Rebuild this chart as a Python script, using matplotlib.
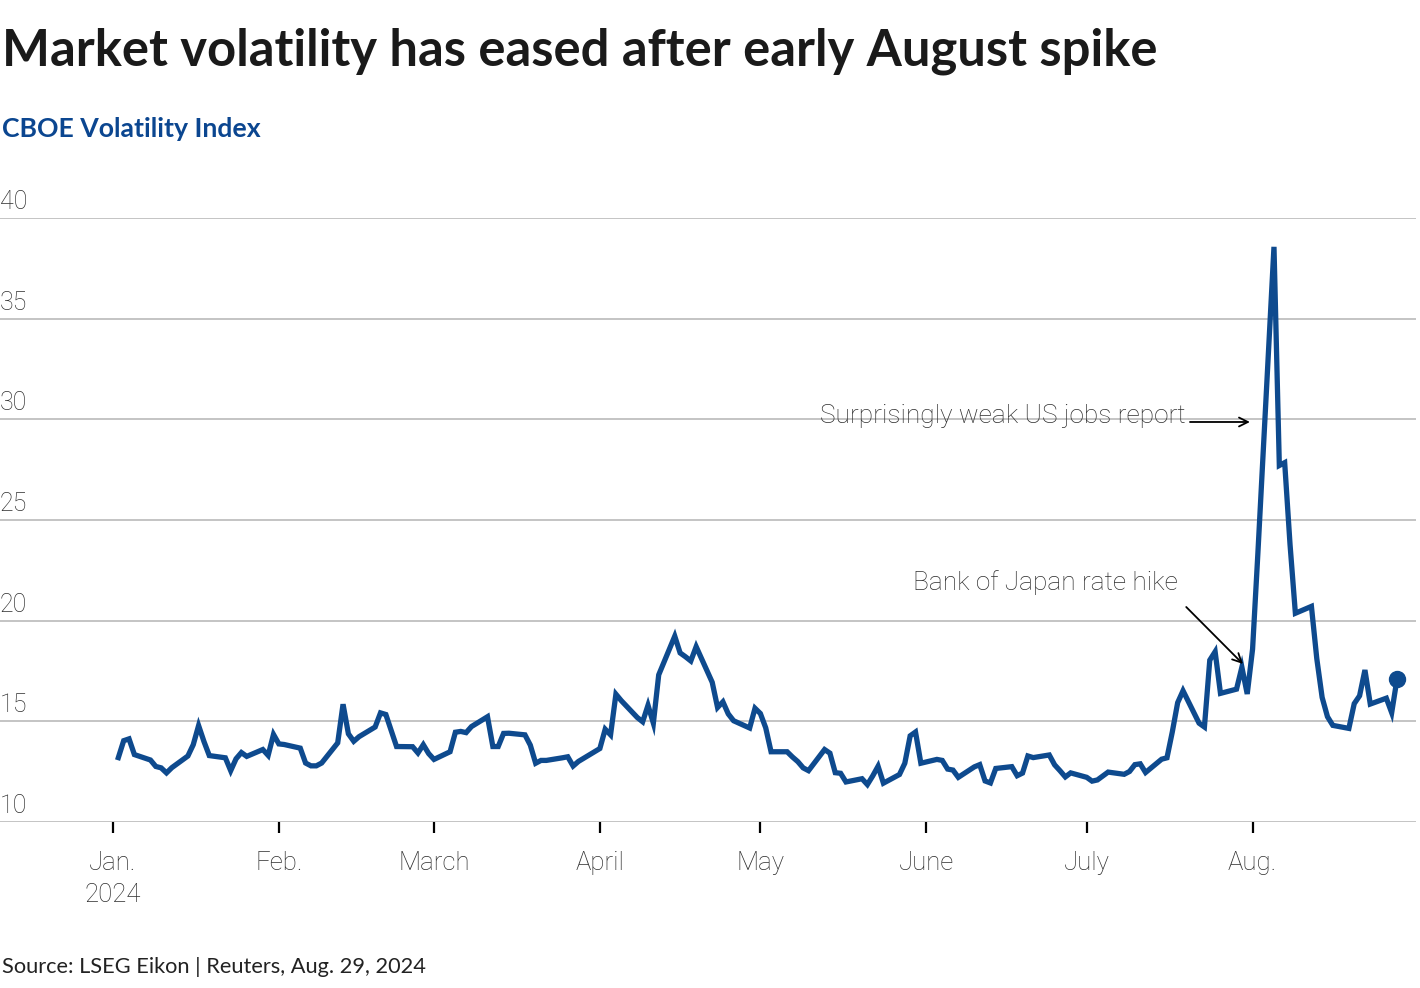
import numpy as np
import pandas as pd
import matplotlib
matplotlib.use("Agg")
import matplotlib.pyplot as plt
import matplotlib.dates as mdates

plt.rcParams['font.family'] = ['Lato', 'DejaVu Sans']

#Colours
blue = "#0e4a8e"
grid = "#b4b4b4"
text = "#2e2e2e"
light = ['Roboto', 'Lato', 'DejaVu Sans']

'''---Data---'''

#Trading days, Jan 2 to Aug 28 2024 (Good Friday and July 4 not in the series)
dates = pd.bdate_range("2024-01-02", "2024-08-28")
dates = dates.drop(pd.to_datetime(["2024-03-29", "2024-07-04"]))

vix_jan = [13.20, 14.04, 14.13, 13.35, 13.08, 12.76, 12.69, 12.44, 12.70, 13.28,
           13.84, 14.79, 14.00, 13.30, 13.19, 12.55, 13.14, 13.45, 13.26, 13.60,
           13.31, 14.35]
vix_feb = [13.88, 13.85, 13.67, 12.93, 12.79, 12.79, 12.93, 13.93, 15.85, 14.38,
           14.01, 14.24, 14.72, 15.42, 15.34, 14.54, 13.75, 13.74, 13.43, 13.84,
           13.40]
vix_mar = [13.11, 13.49, 14.46, 14.50, 14.44, 14.74, 15.23, 13.75, 13.75, 14.40,
           14.41, 14.33, 13.82, 12.92, 13.06, 13.06, 13.19, 13.24, 12.78, 13.01]
vix_apr = [13.65, 14.61, 14.33, 16.35, 16.03, 15.19, 14.98, 15.80, 14.91, 17.31,
           19.23, 18.40, 18.21, 18.00, 18.71, 16.94, 15.69, 15.97, 15.37, 15.03,
           14.67, 15.65]
vix_may = [15.39, 14.68, 13.49, 13.49, 13.23, 13.00, 12.69, 12.55, 13.60, 13.42,
           12.45, 12.42, 11.99, 12.15, 11.86, 12.29, 12.77, 11.93, 12.36, 12.92,
           14.28, 14.47, 12.92]
vix_jun = [13.11, 13.06, 12.63, 12.58, 12.22, 12.74, 12.85, 12.04, 11.94, 12.66,
           12.75, 12.30, 12.43, 13.28, 13.20, 13.33, 12.84, 12.55, 12.24, 12.44]
vix_jul = [12.22, 12.03, 12.09, 12.48, 12.37, 12.51, 12.85, 12.89, 12.46, 13.12,
           13.19, 14.48, 15.93, 16.52, 14.91, 14.72, 18.04, 18.46, 16.39, 16.60,
           17.69, 16.36]
vix_aug = [18.59, 23.39, 38.57, 27.71, 27.85, 23.79, 20.37, 20.71, 18.12, 16.19,
           15.23, 14.80, 14.65, 15.88, 16.27, 17.55, 15.86, 16.15, 15.43, 17.11]

vix = np.array(vix_jan + vix_feb + vix_mar + vix_apr + vix_may + vix_jun + vix_jul + vix_aug)

month_ticks = pd.date_range("2024-01-01", "2024-08-01", freq="MS")
month_labels = ["Jan.\n2024", "Feb.", "March", "April", "May", "June", "July", "Aug."]
y_ticks = [10, 15, 20, 25, 30, 35, 40]

'''---Plot---'''

fig = plt.figure(figsize=(14.2, 9.88), dpi=100)
ax = fig.add_axes([0.0, 0.168, 0.9972, 0.6113])

jan1 = mdates.date2num(pd.Timestamp("2024-01-01"))
ax.set_xlim(jan1 - 21.12, jan1 + 243.55)
ax.set_ylim(10, 40)

for v in y_ticks:
    ax.axhline(v, color=grid, lw=1.1, zorder=1)
    ax.annotate(str(v), xy=(0, v), xycoords=("axes fraction", "data"),
                xytext=(0, 6.5), textcoords="offset points", ha="left", va="baseline",
                fontsize=18, family=light, fontweight="light", color=text)

ax.plot(dates, vix, color=blue, lw=3.8, solid_joinstyle="miter", zorder=3, clip_on=False)
ax.plot(dates[-1], vix[-1], "o", color=blue, ms=11.5, zorder=4, clip_on=False)

for sp in ax.spines.values():
    sp.set_visible(False)
ax.set_yticks([])
ax.set_xticks(month_ticks)
ax.set_xticklabels(month_labels, fontsize=18.5, family=light, fontweight="light",
                   color=text, linespacing=1.4)
ax.tick_params(axis="x", length=8, width=1.6, color="black", pad=13)

#Annotations
ax.text(jan1 + 200.4, 30.17, "Surprisingly weak US jobs report",
        ha="right", va="center", fontsize=18.9, family=light, fontweight="light", color=text)
ax.annotate("", xy=(jan1 + 212.5, 29.87), xytext=(jan1 + 201.3, 29.87),
            arrowprops=dict(arrowstyle="->", color="black", lw=1.3, mutation_scale=16,
                            shrinkA=0, shrinkB=0))
ax.text(jan1 + 199.1, 21.87, "Bank of Japan rate hike",
        ha="right", va="center", fontsize=18.9, family=light, fontweight="light", color=text)
ax.annotate("", xy=(jan1 + 211.2, 17.85), xytext=(jan1 + 200.6, 20.68),
            arrowprops=dict(arrowstyle="->", color="black", lw=1.3, mutation_scale=16,
                            shrinkA=0, shrinkB=0))

#Titles and source
fig.text(0.0015, 0.948, "Market volatility has eased after early August spike",
         ha="left", va="center", fontsize=36.5, fontweight="bold", color="#1a1a1a")
fig.text(0.0015, 0.869, "CBOE Volatility Index",
         ha="left", va="center", fontsize=19.2, fontweight="bold", color="#0b4690")
fig.text(0.0015, 0.021, "Source: LSEG Eikon | Reuters, Aug. 29, 2024",
         ha="left", va="center", fontsize=15.7, color="#222222")

plt.savefig("out.png", dpi=100)
